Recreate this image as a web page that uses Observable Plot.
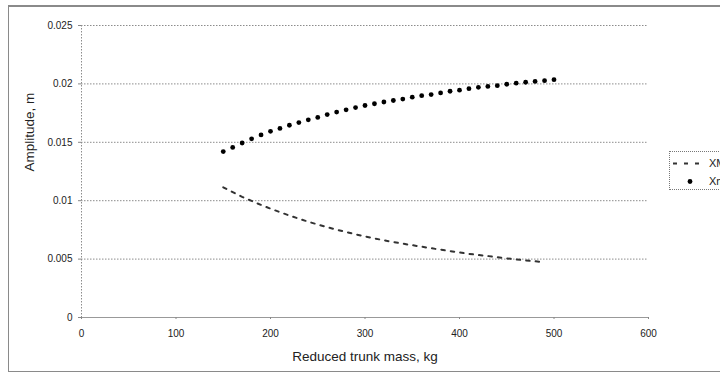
<!DOCTYPE html>
<html><head><meta charset="utf-8">
<script src="https://cdn.jsdelivr.net/npm/d3@7"></script>
<script src="https://cdn.jsdelivr.net/npm/@observablehq/plot@0.6"></script>
<style>
body{margin:0;background:#fff;overflow:hidden;font-family:"Liberation Sans",Arial,sans-serif;}
#wrap{position:relative;width:720px;height:375px;overflow:hidden;}
#chart{position:absolute;left:0;top:0;}
#frame{position:absolute;left:8px;top:5px;width:760px;height:367px;border:1px solid #8a8a8a;border-top:2px solid #8a8a8a;box-sizing:border-box;pointer-events:none;}
#legend{position:absolute;left:669px;top:151px;width:80px;height:39px;border:1px dotted #777;background:#fff;box-sizing:border-box;font-size:11px;color:#222;}
#legend span{position:absolute;left:39px;line-height:13px;}
</style></head><body>
<div id="wrap"><div id="chart"></div><div id="frame"></div><div id="legend"></div></div>
<script>
// Xm series (dots)
const massXm = [150,160,170,180,190,200,210,220,230,240,250,260,270,280,290,300,310,320,330,340,350,360,370,380,390,400,410,420,430,440,450,460,470,480,490,500];
const ampXm = [0.01421,0.01456,0.01494,0.01530,0.01563,0.01594,0.01619,0.01646,0.01669,0.01692,0.01713,0.01737,0.01759,0.01778,0.01797,0.01815,0.01830,0.01845,0.01858,0.01870,0.01886,0.01899,0.01909,0.01923,0.01937,0.01946,0.01959,0.01971,0.01978,0.01985,0.01997,0.02006,0.02014,0.02021,0.02028,0.02036];
// XM series (dashed line)
const massXM = [150,160,170,180,190,200,210,220,230,240,250,260,270,280,290,300,310,320,330,340,350,360,370,380,390,400,410,420,430,440,450,460,470,480,490];
const ampXM = [0.01115,0.01073,0.01033,0.00998,0.00964,0.00932,0.00902,0.00873,0.00846,0.00820,0.00796,0.00773,0.00752,0.00732,0.00712,0.00694,0.00677,0.00661,0.00646,0.00632,0.00619,0.00606,0.00593,0.00581,0.00569,0.00557,0.00545,0.00535,0.00526,0.00516,0.00506,0.00497,0.00489,0.00481,0.00473];
const xTicks = [0,100,200,300,400,500,600];
const yTicks = [0,0.005,0.01,0.015,0.02,0.025];
const seriesNames = ["XM","Xm"];
const xTitle = "Reduced trunk mass, kg";
const yTitle = "Amplitude, m";

const dataXm = massXm.map((m,i)=>({mass:m, amp:ampXm[i]}));
const dataXM = massXM.map((m,i)=>({mass:m, amp:ampXM[i]}));

const chart = Plot.plot({
  width:720, height:375,
  marginLeft:81, marginRight:72, marginTop:25, marginBottom:58,
  style:{fontFamily:"'Liberation Sans', Arial, sans-serif", fontSize:"10px", color:"#222", background:"transparent"},
  x:{domain:[0,600]},
  y:{domain:[0,0.025]},
  marks:[
    Plot.ruleY(yTicks.slice(1), {stroke:"#8c8c8c", strokeDasharray:"1.5,1.5"}),
    Plot.ruleX([0], {stroke:"#8c8c8c", strokeDasharray:"1.5,1.5"}),
    Plot.ruleY([0], {stroke:"#999"}),
    Plot.axisY({ticks:yTicks, tickSize:3, tickPadding:6, tickFormat:d3.format(".3~f"), label:null, stroke:"#888"}),
    Plot.axisX({ticks:xTicks, tickSize:2, tickPadding:10.5, label:null, stroke:"#888"}),
    Plot.line(dataXM, {x:"mass", y:"amp", stroke:"#333", strokeWidth:2, strokeDasharray:"3.5,6"}),
    Plot.dot(dataXm, {x:"mass", y:"amp", r:2.4, fill:"#000"}),
    Plot.text([xTitle], {text:d=>d, frameAnchor:"bottom", dy:39, fontSize:13.5, lineAnchor:"middle", fill:"#222"}),
    Plot.text([yTitle], {text:d=>d, frameAnchor:"left", dx:-52, rotate:-90, fontSize:13.5, lineAnchor:"middle", fill:"#222"})
  ]
});
document.getElementById("chart").appendChild(chart);

const lg = document.getElementById("legend");
lg.innerHTML = `<svg width="38" height="37" style="position:absolute;left:0;top:0">
  <line x1="3" x2="31" y1="11.5" y2="11.5" stroke="#333" stroke-width="2" stroke-dasharray="4,7"></line>
  <circle cx="20" cy="29.5" r="2.4" fill="#000"></circle></svg>`;
seriesNames.forEach((n,i)=>{
  const s = document.createElement("span");
  s.textContent = n;
  s.style.top = (i===0 ? 5 : 23) + "px";
  lg.appendChild(s);
});
</script>
</body></html>
